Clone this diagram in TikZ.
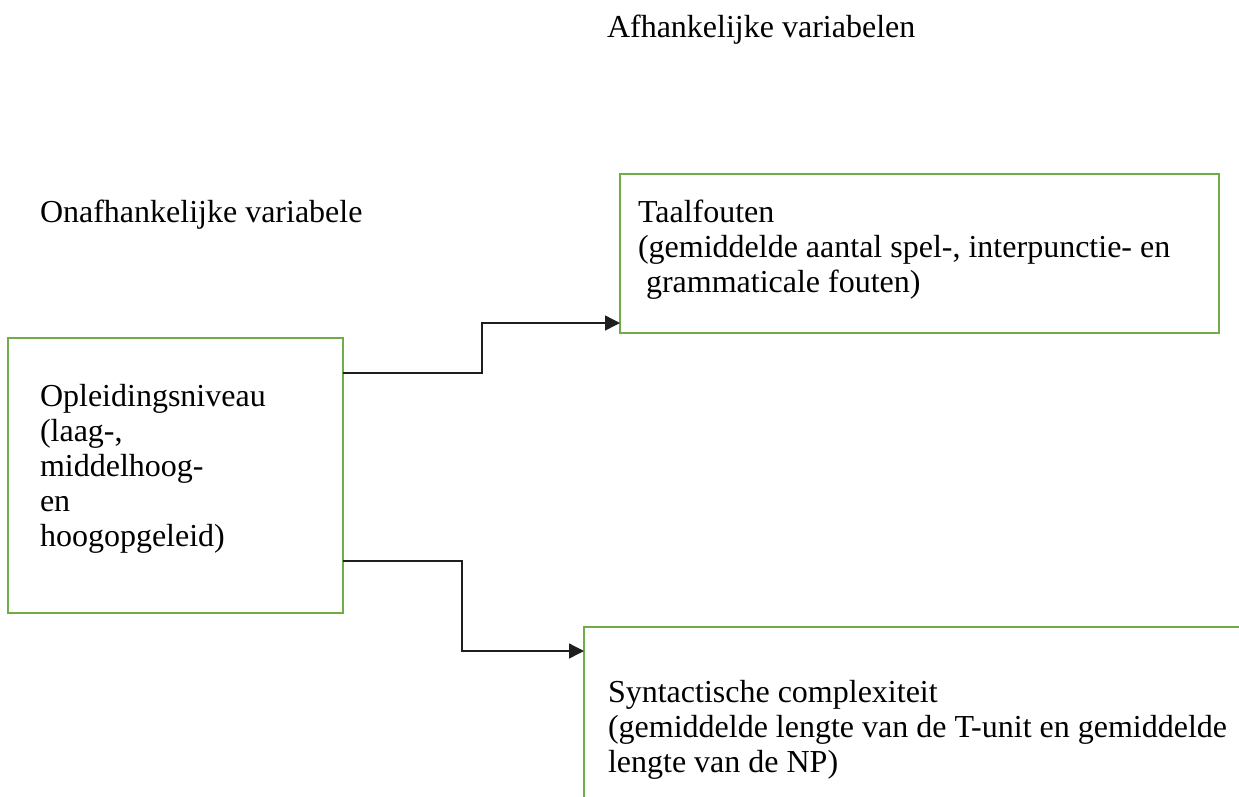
\documentclass[tikz,border=0pt]{standalone}
\usepackage{fontspec}
\setmainfont{Liberation Serif}
\usetikzlibrary{arrows.meta}
\definecolor{boxgreen}{RGB}{112,173,71}
\definecolor{linegray}{RGB}{30,30,30}
\begin{document}
\begin{tikzpicture}[x=1pt,y=-1pt,
  box/.style={draw=boxgreen, line width=2.5pt, inner sep=0pt, outer sep=0pt, anchor=north west, rectangle},
  txt/.style={anchor=north west, inner sep=0pt, outer sep=0pt, align=left, font=\fontsize{32}{35}\selectfont},
  conn/.style={draw=linegray, line width=1.4pt, -{Triangle[length=15pt,width=15pt]}}]
\useasboundingbox (0,0) rectangle (1239,796);
\clip (0,0) rectangle (1239,796);
% boxes
\node[box, minimum width=335pt, minimum height=275pt] (opl) at (8,338) {};
\node[box, minimum width=599pt, minimum height=159pt] (taal) at (620,174) {};
\node[box, minimum width=700pt, minimum height=220pt] (syn) at (584,627) {};
% texts
\node[txt] (dep) at (607,12.5) {\strut Afhankelijke variabelen};
\node[txt] (indep) at (40,197.5) {\strut Onafhankelijke variabele};
\node[txt] (tt) at (638,197.5) {\strut Taalfouten\\(gemiddelde aantal spel-, interpunctie- en\\\hspace{8pt}grammaticale fouten)};
\node[txt] (ot) at (40,381.5) {\strut Opleidingsniveau\\(laag-,\\middelhoog-\\en\\hoogopgeleid)};
\node[txt] (st) at (608,677.5) {\strut Syntactische complexiteit\\(gemiddelde lengte van de T-unit en gemiddelde\\lengte van de NP)};
% connectors
\draw[conn] ([yshift=-35pt]opl.north east) -- ++(139,0) |- ([yshift=10pt]taal.south west);
\draw[conn] ([yshift=-223pt]opl.north east) -- ++(119,0) |- ([yshift=-24pt]syn.north west);
\end{tikzpicture}
\end{document}
